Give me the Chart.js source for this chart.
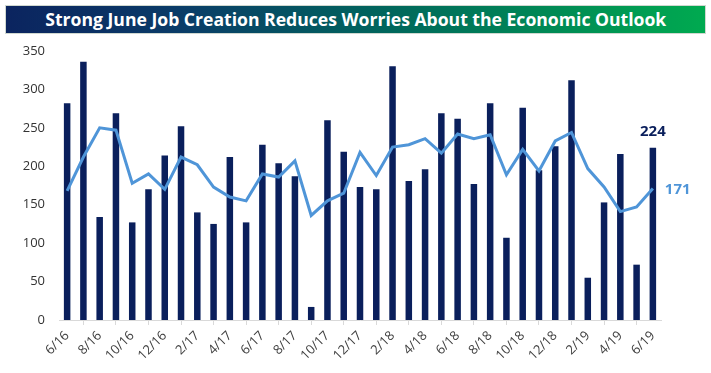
<!DOCTYPE html>
<html>
<head>
<meta charset="utf-8">
<script src="https://cdn.jsdelivr.net/npm/chart.js@4.4.1/dist/chart.umd.min.js"></script>
<style>
  html, body { margin: 0; padding: 0; background: #ffffff; }
  #wrap { position: relative; width: 711px; height: 373px; overflow: hidden; }
  #banner {
    position: absolute; left: 5px; top: 5px; width: 699px; height: 27px;
    background: linear-gradient(to right, #0b245f 0%, #0a3c68 25%, #00675c 55%, #008a55 78%, #00aa50 100%);
    border: 1px solid #d0d8d0;
    display: flex; align-items: center; justify-content: center;
    overflow: hidden;
  }
  #title {
    color: #ffffff; font-family: "Open Sans", sans-serif; font-weight: bold;
    font-size: 18px; white-space: nowrap; display: inline-block;
    transform-origin: center center; line-height: 27px;
  }
  canvas { position: absolute; left: 0; top: 0; }
</style>
</head>
<body>
<div id="wrap">
  <canvas id="c" width="711" height="373"></canvas>
  <div id="banner"><span id="title">Strong June Job Creation Reduces Worries About the Economic Outlook</span></div>
</div>
<script>
// ---- Data ----
const categories = [
  "6/16","7/16","8/16","9/16","10/16","11/16","12/16",
  "1/17","2/17","3/17","4/17","5/17","6/17","7/17","8/17","9/17","10/17","11/17","12/17",
  "1/18","2/18","3/18","4/18","5/18","6/18","7/18","8/18","9/18","10/18","11/18","12/18",
  "1/19","2/19","3/19","4/19","5/19","6/19"
];
const monthlyJobs = [
  282, 336, 134, 269, 127, 170, 214,
  252, 140, 125, 212, 127, 228, 204, 187, 17, 260, 219, 173,
  170, 330, 181, 196, 269, 262, 177, 282, 107, 276, 195, 226,
  312, 55, 153, 216, 72, 224
];
const threeMonthAvg = [
  168, 212, 250, 247, 178, 190, 170,
  212, 202, 173, 160, 155, 190, 186, 207, 136, 155, 165, 218,
  188, 225, 228, 236, 217, 242, 236, 241, 189, 222, 194, 233,
  244, 197, 173, 141, 147, 171
];
const yTicks = [0, 50, 100, 150, 200, 250, 300, 350];

// fit title width
(function () {
  const t = document.getElementById('title');
  const w = t.getBoundingClientRect().width;
  const target = 621;
  t.style.transform = 'scaleX(' + (target / w) + ')';
})();

const endLabels = {
  id: 'endLabels',
  afterDatasetsDraw(chart) {
    const ctx = chart.ctx;
    const x = chart.scales.x, y = chart.scales.y;
    const last = categories.length - 1;
    ctx.save();
    ctx.font = 'bold 15px "Open Sans", sans-serif';
    ctx.textBaseline = 'middle';
    ctx.textAlign = 'center';
    ctx.fillStyle = '#0a1f5c';
    ctx.fillText(String(monthlyJobs[last]), x.getPixelForValue(last), y.getPixelForValue(monthlyJobs[last]) - 16);
    ctx.textAlign = 'left';
    ctx.fillStyle = '#4f95d8';
    ctx.fillText(String(threeMonthAvg[last]), x.getPixelForValue(last) + 12, y.getPixelForValue(threeMonthAvg[last]) + 1);
    ctx.restore();
  }
};

new Chart(document.getElementById('c'), {
  data: {
    labels: categories,
    datasets: [
      {
        type: 'line', data: threeMonthAvg, borderColor: '#4f95d8', borderWidth: 3,
        pointRadius: 0, tension: 0, fill: false, order: 0
      },
      {
        type: 'bar', data: monthlyJobs, backgroundColor: '#0a1f5c',
        barPercentage: 0.4, categoryPercentage: 1.0, order: 1
      }
    ]
  },
  options: {
    responsive: false,
    animation: false,
    devicePixelRatio: 1,
    layout: { padding: { left: 0, right: 50, top: 51, bottom: 0 } },
    plugins: { legend: { display: false }, tooltip: { enabled: false }, title: { display: false } },
    scales: {
      x: {
        offset: true,
        grid: { display: true, drawOnChartArea: false, drawTicks: true, tickLength: 5, color: '#d9d9d9', offset: true },
        border: { display: true, color: '#d9d9d9', width: 1 },
        ticks: {
          autoSkip: false, maxRotation: 45, minRotation: 45, padding: 3,
          color: '#404040', font: { family: '"Open Sans", sans-serif', size: 13 },
          callback: function (v, i) { return i % 2 === 0 ? categories[i] : null; }
        },
        afterFit: function (s) { s.height = 53; }
      },
      y: {
        min: 0, max: 350,
        afterBuildTicks: function (s) { s.ticks = yTicks.map(v => ({ value: v })); },
        grid: { display: false, drawTicks: false },
        border: { display: false },
        ticks: { padding: 14, color: '#333333', font: { family: '"Open Sans", sans-serif', size: 13 } },
        afterFit: function (s) { s.width = 59; }
      }
    }
  },
  plugins: [endLabels]
});
</script>
</body>
</html>
